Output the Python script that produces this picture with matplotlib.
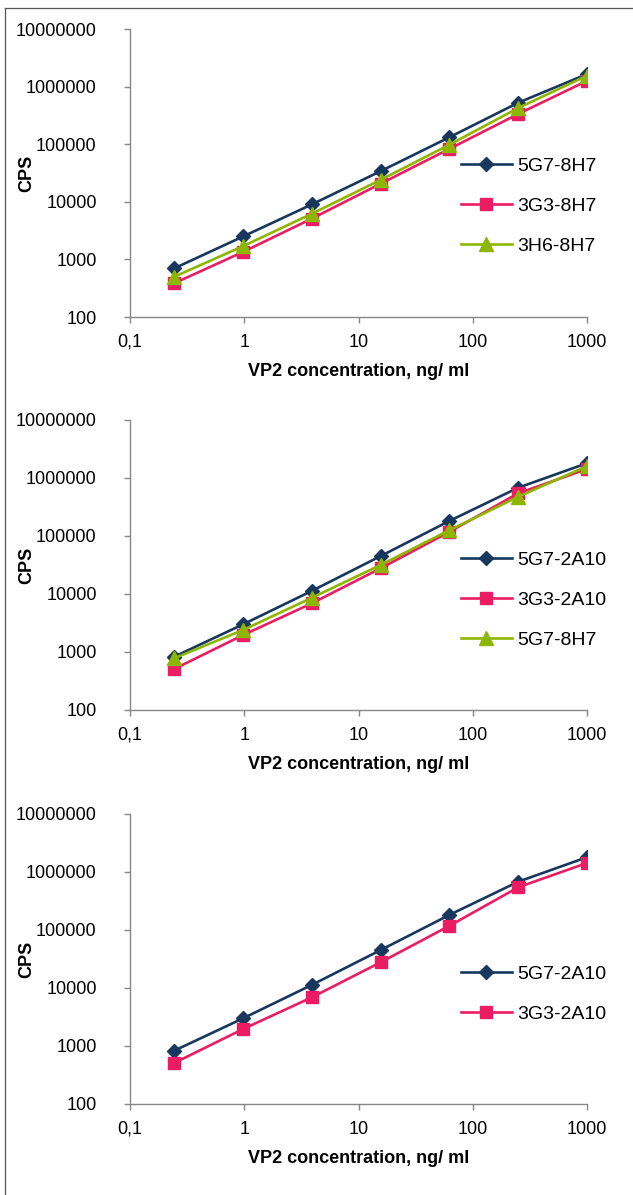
import matplotlib
matplotlib.use("Agg")
import matplotlib.pyplot as plt
from matplotlib.lines import Line2D

plt.rcParams['font.family'] = ['Liberation Sans', 'DejaVu Sans']

conc = [0.244, 0.977, 3.9, 15.6, 62.5, 250, 1000]

# Panel 1
p1_5G7_8H7 = [700, 2500, 9000, 34000, 132000, 525000, 1650000]
p1_3G3_8H7 = [385, 1350, 5100, 20600, 83000, 335000, 1260000]
p1_3H6_8H7 = [500, 1700, 6200, 24000, 98000, 425000, 1550000]

# Panel 2
p2_5G7_2A10 = [830, 3000, 11300, 45000, 182000, 680000, 1800000]
p2_3G3_2A10 = [510, 1960, 6900, 27700, 118000, 545000, 1430000]
p2_5G7_8H7 = [780, 2400, 8600, 31600, 126000, 475000, 1600000]

# Panel 3
p3_5G7_2A10 = [830, 3000, 11300, 45000, 182000, 680000, 1800000]
p3_3G3_2A10 = [510, 1960, 6900, 27700, 118000, 545000, 1430000]

x_ticks = [0.1, 1, 10, 100, 1000]
x_ticklabels = ['0,1', '1', '10', '100', '1000']
y_ticks = [100, 1000, 10000, 100000, 1000000, 10000000]
y_ticklabels = ['100', '1000', '10000', '100000', '1000000', '10000000']

NAVY = '#17375E'
PINK = '#EC1C63'
GREEN = '#8DB600'
AXC = '#888888'

styles = {
    'navy': dict(color=NAVY, marker='D', ms=7.5, mfc=NAVY, mec=NAVY),
    'pink': dict(color=PINK, marker='s', ms=9, mfc=PINK, mec=PINK),
    'green': dict(color=GREEN, marker='^', ms=10, mfc=GREEN, mec=GREEN),
}

panels = [
    dict(top=29, bottom=317, series=[(p1_5G7_8H7, '5G7-8H7', 'navy'),
                                     (p1_3G3_8H7, '3G3-8H7', 'pink'),
                                     (p1_3H6_8H7, '3H6-8H7', 'green')],
         leg_y=164),
    dict(top=420, bottom=710, series=[(p2_5G7_2A10, '5G7-2A10', 'navy'),
                                      (p2_3G3_2A10, '3G3-2A10', 'pink'),
                                      (p2_5G7_8H7, '5G7-8H7', 'green')],
         leg_y=558),
    dict(top=814, bottom=1104, series=[(p3_5G7_2A10, '5G7-2A10', 'navy'),
                                       (p3_3G3_2A10, '3G3-2A10', 'pink')],
         leg_y=972),
]

W, H = 633, 1195
fig = plt.figure(figsize=(W / 100, H / 100), dpi=100)

# outer frame
fig.add_artist(Line2D([5 / W, 5 / W], [0, 1 - 8 / H], transform=fig.transFigure,
                      color='#555555', lw=0.9))
fig.add_artist(Line2D([5 / W, 1], [1 - 8 / H, 1 - 8 / H], transform=fig.transFigure,
                      color='#555555', lw=0.9))

left, right = 130, 587
for p in panels:
    ax = fig.add_axes([left / W, 1 - p['bottom'] / H, (right - left) / W,
                       (p['bottom'] - p['top']) / H])
    handles = []
    for vals, label, key in p['series']:
        ln, = ax.plot(conc, vals, lw=1.9, label=label, **styles[key])
        handles.append(ln)
    ax.set_xscale('log')
    ax.set_yscale('log')
    ax.set_xlim(0.1, 1000)
    ax.set_ylim(100, 10000000)
    ax.set_xticks(x_ticks)
    ax.set_xticklabels(x_ticklabels)
    ax.set_yticks(y_ticks)
    ax.set_yticklabels(y_ticklabels)
    ax.minorticks_off()
    for s in ['top', 'right']:
        ax.spines[s].set_visible(False)
    for s in ['left', 'bottom']:
        ax.spines[s].set_color(AXC)
        ax.spines[s].set_linewidth(1.0)
    ax.tick_params(axis='both', colors=AXC, labelcolor='black', labelsize=13,
                   length=4, width=1.0, direction='out')
    ax.tick_params(axis='y', pad=20)
    ax.tick_params(axis='x', pad=8)
    ax.set_xlabel('VP2 concentration, ng/ ml', fontsize=13, fontweight='bold', labelpad=9)
    ax.set_ylabel('CPS', fontsize=13, fontweight='bold')
    ax.yaxis.set_label_coords((35 - left) / (right - left), 0.5)
    ax.patch.set_alpha(0)

    # legend
    yfig = 1 - (p['leg_y'] - 7) / H
    fig.legend(handles=handles, loc='upper left',
               bbox_to_anchor=(461 / W, yfig), frameon=False, fontsize=14,
               handlelength=2.6, handletextpad=0.3, labelspacing=1.15,
               borderaxespad=0, borderpad=0)

fig.savefig('out.png', dpi=100)
